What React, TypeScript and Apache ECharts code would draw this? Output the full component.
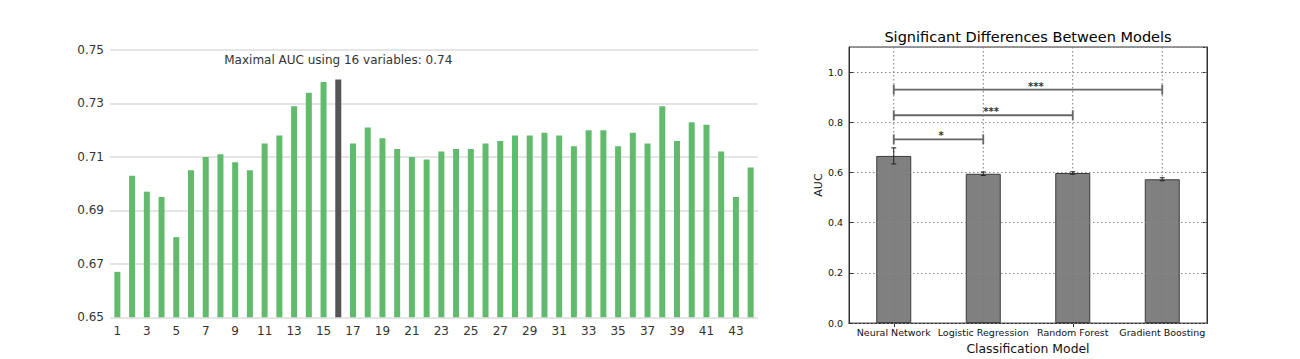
import React, { useEffect, useRef } from "react";
import * as echarts from "echarts";

// ---------- Left chart data ----------
const varCounts = [
  "1", "2", "3", "4", "5", "6", "7", "8", "9", "10", "11",
  "12", "13", "14", "15", "16", "17", "18", "19", "20", "21", "22",
  "23", "24", "25", "26", "27", "28", "29", "30", "31", "32", "33",
  "34", "35", "36", "37", "38", "39", "40", "41", "42", "43", "44",
];
const aucByVars = [
  0.667, 0.703, 0.697, 0.695, 0.68, 0.705, 0.71, 0.711, 0.708, 0.705, 0.715,
  0.718, 0.729, 0.734, 0.738, 0.739, 0.715, 0.721, 0.717, 0.713, 0.71, 0.709,
  0.712, 0.713, 0.713, 0.715, 0.716, 0.718, 0.718, 0.719, 0.718, 0.714, 0.72,
  0.72, 0.714, 0.719, 0.715, 0.729, 0.716, 0.723, 0.722, 0.712, 0.695, 0.706,
];

// ---------- Right chart data ----------
const models = ["Neural Network", "Logistic Regression", "Random Forest", "Gradient Boosting"];
const modelAuc = [0.666, 0.595, 0.598, 0.573];
const modelErr = [0.032, 0.007, 0.005, 0.006];
const sigFrom = [0, 0, 0];
const sigTo = [1, 2, 3];
const sigY = [0.732, 0.828, 0.93];
const sigLabel = ["*", "***", "***"];

const FONT = "DejaVu Sans";

export default function App() {
  const ref = useRef<HTMLDivElement>(null);

  useEffect(() => {
    if (!ref.current) return;
    const chart = echarts.init(ref.current, null, { renderer: "svg" });

    let maxIdx = 0;
    aucByVars.forEach((v, i) => {
      if (v > aucByVars[maxIdx]) maxIdx = i;
    });

    const leftData = aucByVars.map((v, i) =>
      i === maxIdx
        ? {
            value: v,
            itemStyle: { color: "#555555" },
            label: {
              show: true,
              position: "top",
              distance: 13,
              formatter: `Maximal AUC using ${varCounts[i]} variables: ${v.toFixed(2)}`,
              fontFamily: FONT,
              fontSize: 12,
              color: "#333",
            },
          }
        : { value: v }
    );

    const option: any = {
      animation: false,
      backgroundColor: "#ffffff",
      title: {
        text: "Significant Differences Between Models",
        left: 1028,
        top: 29,
        padding: 0,
        textAlign: "center",
        textStyle: { fontFamily: FONT, fontSize: 14.5, fontWeight: "normal", color: "#000" },
      },
      grid: [
        { left: 110, right: 542, top: 50, bottom: 41.7 },
        {
          left: 849,
          right: 93,
          top: 47,
          bottom: 35.7,
          show: true,
          borderColor: "#333",
          borderWidth: 1,
          backgroundColor: "transparent",
        },
      ],
      xAxis: [
        {
          type: "category",
          gridIndex: 0,
          data: varCounts,
          axisLine: { show: false },
          axisTick: { show: false },
          axisLabel: { interval: 1, fontFamily: FONT, fontSize: 12, color: "#333", margin: 8 },
        },
        {
          type: "category",
          gridIndex: 1,
          data: models,
          axisLine: { show: true, lineStyle: { color: "#333" } },
          axisTick: { show: true, inside: true, alignWithLabel: true, length: 4, lineStyle: { color: "#333" } },
          axisLabel: { fontFamily: FONT, fontSize: 9.5, color: "#111", margin: 4, interval: 0 },
          name: "Classification Model",
          nameLocation: "middle",
          nameGap: 15,
          nameTextStyle: { fontFamily: FONT, fontSize: 12.4, color: "#111" },
        },
        {
          type: "category",
          gridIndex: 1,
          position: "top",
          data: models,
          axisLine: { show: true, lineStyle: { color: "#333" } },
          axisTick: { show: true, inside: true, alignWithLabel: true, length: 4, lineStyle: { color: "#333" } },
          axisLabel: { show: false },
        },
      ],
      yAxis: [
        {
          type: "value",
          gridIndex: 0,
          min: 0.65,
          max: 0.75,
          interval: 0.02,
          axisLine: { show: false },
          axisTick: { show: false },
          axisLabel: {
            fontFamily: FONT,
            fontSize: 12,
            color: "#333",
            margin: 6,
            formatter: (v: number) => v.toFixed(2),
          },
          splitLine: { lineStyle: { color: "#dddddd", width: 1.5 } },
        },
        {
          type: "value",
          gridIndex: 1,
          min: 0,
          max: 1.1,
          interval: 0.2,
          z: 3,
          axisLine: { show: true, lineStyle: { color: "#333" } },
          axisTick: { show: true, inside: true, length: 4, lineStyle: { color: "#333" } },
          axisLabel: {
            fontFamily: FONT,
            fontSize: 9.5,
            color: "#111",
            margin: 6,
            showMaxLabel: false,
            formatter: (v: number) => v.toFixed(1),
          },
          splitLine: { show: true, lineStyle: { color: "#888", width: 1, type: [1.5, 2.5] } },
          name: "AUC",
          nameLocation: "middle",
          nameGap: 23,
          nameTextStyle: { fontFamily: FONT, fontSize: 11, color: "#111" },
        },
        {
          type: "value",
          gridIndex: 1,
          position: "right",
          min: 0,
          max: 1.1,
          interval: 0.2,
          axisLine: { show: true, lineStyle: { color: "#333" } },
          axisTick: { show: true, inside: true, length: 4, lineStyle: { color: "#333" } },
          axisLabel: { show: false },
          splitLine: { show: false },
        },
      ],
      series: [
        {
          type: "bar",
          xAxisIndex: 0,
          yAxisIndex: 0,
          data: leftData,
          barWidth: 6,
          itemStyle: { color: "#62bb6d" },
        },
        {
          type: "bar",
          xAxisIndex: 1,
          yAxisIndex: 1,
          data: modelAuc,
          barWidth: 35,
          itemStyle: { color: "#808080", borderColor: "#3a3a3a", borderWidth: 1 },
          z: 2,
        },
        {
          // vertical dotted grid lines at category centres (drawn above bars like matplotlib classic)
          type: "custom",
          xAxisIndex: 1,
          yAxisIndex: 1,
          z: 4,
          silent: true,
          encode: { x: 0, y: [1, 2] },
          data: models.map((_, i) => [i, 0, 1.1]),
          renderItem: (params: any, api: any) => {
            const x = api.value(0);
            const top = api.coord([x, api.value(2)]);
            const bot = api.coord([x, api.value(1)]);
            return {
              type: "line",
              shape: { x1: top[0], y1: top[1], x2: bot[0], y2: bot[1] },
              style: { stroke: "#777", lineWidth: 1, lineDash: [1.5, 2.5] },
            };
          },
        },
        {
          // error bars
          type: "custom",
          xAxisIndex: 1,
          yAxisIndex: 1,
          z: 5,
          silent: true,
          encode: { x: 0, y: [1, 2] },
          data: modelAuc.map((v, i) => [i, v - modelErr[i], v + modelErr[i]]),
          renderItem: (params: any, api: any) => {
            const x = api.value(0);
            const lo = api.coord([x, api.value(1)]);
            const hi = api.coord([x, api.value(2)]);
            const cap = 2.5;
            const st = { stroke: "#222", lineWidth: 1 };
            return {
              type: "group",
              children: [
                { type: "line", shape: { x1: lo[0], y1: lo[1], x2: hi[0], y2: hi[1] }, style: st },
                { type: "line", shape: { x1: lo[0] - cap, y1: lo[1], x2: lo[0] + cap, y2: lo[1] }, style: st },
                { type: "line", shape: { x1: hi[0] - cap, y1: hi[1], x2: hi[0] + cap, y2: hi[1] }, style: st },
              ],
            };
          },
        },
        {
          // significance brackets
          type: "custom",
          xAxisIndex: 1,
          yAxisIndex: 1,
          z: 6,
          silent: true,
          encode: { x: [0, 1], y: 2 },
          data: sigFrom.map((f, i) => [f, sigTo[i], sigY[i]]),
          renderItem: (params: any, api: any) => {
            const y = api.value(2);
            const p1 = api.coord([api.value(0), y]);
            const p2 = api.coord([api.value(1), y]);
            const st = { stroke: "#666", lineWidth: 1.8 };
            const mid = (p1[0] + p2[0]) / 2;
            return {
              type: "group",
              children: [
                { type: "line", shape: { x1: p1[0], y1: p1[1], x2: p2[0], y2: p2[1] }, style: st },
                { type: "line", shape: { x1: p1[0], y1: p1[1] - 5, x2: p1[0], y2: p1[1] + 5 }, style: st },
                { type: "line", shape: { x1: p2[0], y1: p2[1] - 5, x2: p2[0], y2: p2[1] + 5 }, style: st },
                {
                  type: "text",
                  style: {
                    text: sigLabel[params.dataIndex],
                    x: mid,
                    y: p1[1] - 3.4,
                    align: "left",
                    verticalAlign: "middle",
                    fontFamily: FONT,
                    fontSize: 10,
                    fontWeight: "bold",
                    fill: "#333",
                  },
                },
              ],
            };
          },
        },
      ],
    };

    chart.setOption(option);
    return () => {
      chart.dispose();
    };
  }, []);

  return (
    <div
      ref={ref}
      style={{ position: "fixed", left: 0, top: 0, width: 1300, height: 359, background: "#fff" }}
    />
  );
}
